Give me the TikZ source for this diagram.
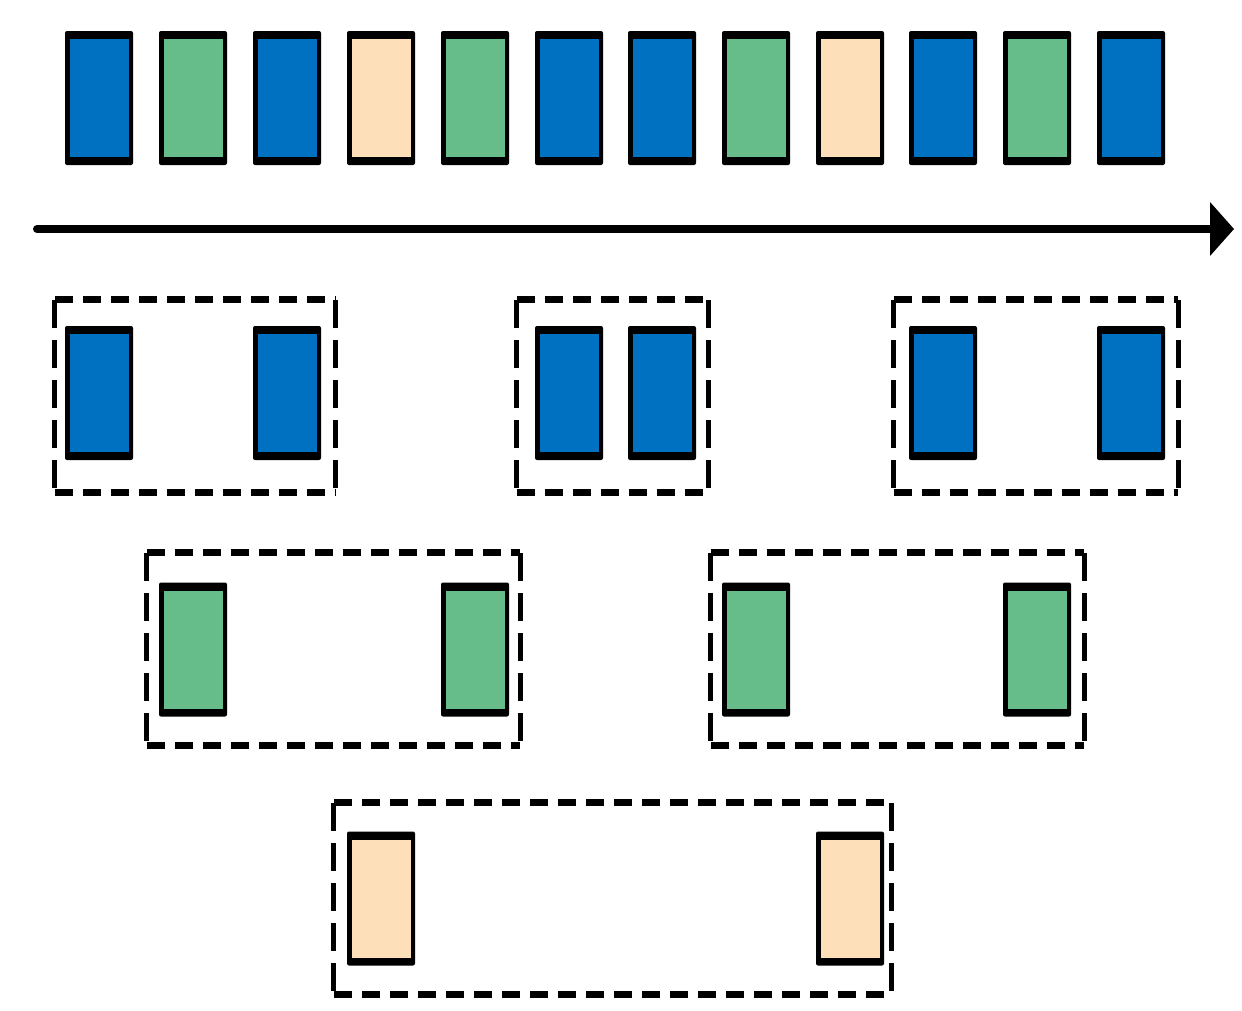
\documentclass[tikz,border=0pt]{standalone}
\usetikzlibrary{arrows.meta}
\definecolor{cblue}{HTML}{0070C0}
\definecolor{cgreen}{HTML}{66BD8A}
\definecolor{cpeach}{HTML}{FDDFB9}
\tikzset{
  cellframe/.style={fill=black, rounded corners=2pt, minimum width=68, minimum height=134, inner sep=0},
  cellfill/.style={fill=#1, minimum width=59, minimum height=118, inner sep=0},
  grpbox/.style={inner sep=0},
  hdash/.style={line width=7pt, dash pattern=on 18pt off 10pt},
  vdash/.style={line width=5pt, dash pattern=on 28pt off 12pt},
  timeline/.style={line width=8pt, line cap=round, -{Triangle[length=24pt,width=54pt,round=false,line width=0pt]}}
}
\newcommand\cellbox[4]{%
  \node[cellframe] (#1) at (#2,#3) {};
  \node[cellfill=#4] (#1f) at (#1.center) {};}
\newcommand\grp[5]{%
  \node[grpbox, minimum width=#4, minimum height=#5] (#1) at (#2,#3) {};
  \draw[hdash] (#1.north west) -- (#1.north east);
  \draw[hdash] (#1.south west) -- (#1.south east);
  \draw[vdash] (#1.north west) -- (#1.south west);
  \draw[vdash] (#1.north east) -- (#1.south east);}
\begin{document}
\begin{tikzpicture}[x=1pt,y=-1pt]
\useasboundingbox (0,0) rectangle (1242,1010);
% top row
\cellbox{t1}{99}{98}{cblue}
\cellbox{t2}{193}{98}{cgreen}
\cellbox{t3}{287}{98}{cblue}
\cellbox{t4}{381}{98}{cpeach}
\cellbox{t5}{475}{98}{cgreen}
\cellbox{t6}{569}{98}{cblue}
\cellbox{t7}{662}{98}{cblue}
\cellbox{t8}{756}{98}{cgreen}
\cellbox{t9}{850}{98}{cpeach}
\cellbox{t10}{943}{98}{cblue}
\cellbox{t11}{1037}{98}{cgreen}
\cellbox{t12}{1131}{98}{cblue}
% arrow
\coordinate (a0) at (37,229);
\coordinate (a1) at (1234,229);
\draw[timeline] (a0) -- (a1);
% group boxes
\grp{g1}{195}{396}{280}{192}
\grp{g2}{612.5}{396}{191}{192}
\grp{g3}{1036}{396}{284}{192}
\grp{g4}{333.5}{649}{373}{192}
\grp{g5}{897.5}{649}{373}{192}
\grp{g6}{612.5}{898.5}{557}{191}
% grouped cells
\cellbox{b1}{99}{393}{cblue}
\cellbox{b2}{287}{393}{cblue}
\cellbox{b3}{569}{393}{cblue}
\cellbox{b4}{662}{393}{cblue}
\cellbox{b5}{943}{393}{cblue}
\cellbox{b6}{1131}{393}{cblue}
\cellbox{c1}{193}{649.5}{cgreen}
\cellbox{c2}{475}{649.5}{cgreen}
\cellbox{c3}{756}{649.5}{cgreen}
\cellbox{c4}{1037}{649.5}{cgreen}
\cellbox{d1}{381}{898.5}{cpeach}
\cellbox{d2}{850}{898.5}{cpeach}
\end{tikzpicture}
\end{document}
